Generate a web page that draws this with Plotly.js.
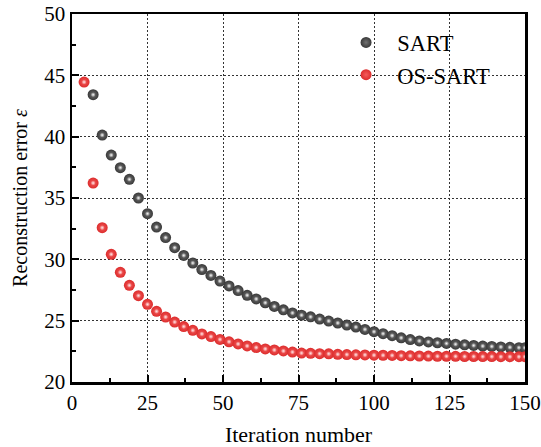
<!DOCTYPE html>
<html>
<head>
<meta charset="utf-8">
<script src="https://cdn.plot.ly/plotly-3.0.1.min.js"></script>
<style>
  html, body { margin: 0; padding: 0; background: #fff; }
  #chart { width: 541px; height: 447px; }
</style>
</head>
<body>
<div id="chart"></div>
<script>
// Reconstruction error per iteration for the two algorithms
const sartIter = [7, 10, 13, 16, 19, 22, 25, 28, 31, 34, 37, 40, 43, 46, 49, 52, 55, 58, 61, 64,
  67, 70, 73, 76, 79, 82, 85, 88, 91, 94, 97, 100, 103, 106, 109, 112, 115, 118, 121, 124,
  127, 130, 133, 136, 139, 142, 145, 148, 150];
const sartError = [43.42, 40.13, 38.5, 37.47, 36.52, 35.0, 33.72, 32.63, 31.77, 30.95,
  30.32, 29.70, 29.17, 28.69, 28.23, 27.83, 27.45, 27.07, 26.77, 26.46,
  26.16, 25.88, 25.63, 25.45, 25.31, 25.13, 24.97, 24.81, 24.64, 24.48,
  24.29, 24.10, 23.94, 23.78, 23.60, 23.46, 23.35, 23.27, 23.20, 23.14,
  23.08, 23.03, 22.98, 22.93, 22.90, 22.86, 22.83, 22.80, 22.79];

const osIter = [4, 7, 10, 13, 16, 19, 22, 25, 28, 31, 34, 37, 40, 43, 46, 49, 52, 55, 58, 61,
  64, 67, 70, 73, 76, 79, 82, 85, 88, 91, 94, 97, 100, 103, 106, 109, 112, 115, 118, 121,
  124, 127, 130, 133, 136, 139, 142, 145, 148, 150];
const osError = [44.45, 36.22, 32.58, 30.41, 28.94, 27.88, 27.04, 26.33, 25.76, 25.30,
  24.89, 24.52, 24.21, 23.92, 23.70, 23.47, 23.28, 23.10, 22.94, 22.81,
  22.70, 22.61, 22.53, 22.44, 22.36, 22.34, 22.31, 22.30, 22.26, 22.24,
  22.22, 22.21, 22.19, 22.18, 22.17, 22.15, 22.13, 22.12, 22.11, 22.10,
  22.10, 22.09, 22.08, 22.08, 22.07, 22.07, 22.06, 22.06, 22.06, 22.06];

const seriesNames = ['SART', 'OS-SART'];

const FONT = 'Liberation Serif, Times New Roman, serif';

// Shaded "ball" markers: a radial-gradient base plus a small glossy highlight
function balls(x, y, name, edge, core, shine) {
  return [
    {
      x: x, y: y, name: '\u2002' + name, type: 'scatter', mode: 'markers',
      legendgroup: name,
      marker: { size: 11, color: edge, line: { width: 0 },
        gradient: { type: 'radial', color: core } }
    },
    {
      x: x, y: y, name: name, type: 'scatter', mode: 'markers',
      legendgroup: name, showlegend: false, hoverinfo: 'skip',
      marker: { size: 5, color: 'rgba(255,255,255,0)', line: { width: 0 },
        gradient: { type: 'radial', color: shine } }
    }
  ];
}

const data = [].concat(
  balls(sartIter, sartError, seriesNames[0], '#383838', '#727272', 'rgba(255,255,255,0.95)'),
  balls(osIter, osError, seriesNames[1], '#dc2c2c', '#f45c5c', 'rgba(255,235,235,0.95)')
);

const axisCommon = {
  showline: true, linewidth: 2.5, linecolor: '#000', mirror: true,
  ticks: 'inside', ticklen: 7, tickwidth: 2, tickcolor: '#000',
  showgrid: true, gridcolor: '#333', gridwidth: 1, griddash: '2px,2px',
  zeroline: false,
  tickfont: { family: FONT, size: 21, color: '#000' }
};

const layout = {
  width: 541, height: 447,
  margin: { l: 72, r: 16, t: 14, b: 65 },
  paper_bgcolor: '#fff', plot_bgcolor: '#fff',
  font: { family: FONT, size: 21, color: '#000' },
  showlegend: true,
  legend: {
    x: 0.605, y: 0.98, xanchor: 'left', yanchor: 'top',
    bgcolor: 'rgba(255,255,255,0)', borderwidth: 0,
    font: { family: FONT, size: 22.5, color: '#000' },
    tracegroupgap: 0
  },
  xaxis: Object.assign({}, axisCommon, {
    range: [0, 150], tick0: 0, dtick: 25,
    minor: { ticks: 'inside', ticklen: 4, tickwidth: 2, tickcolor: '#000', tick0: 0, dtick: 12.5, showgrid: false },
    title: { text: 'Iteration number', font: { family: FONT, size: 22, color: '#000' }, standoff: 15 }
  }),
  yaxis: Object.assign({}, axisCommon, {
    range: [20, 50], tick0: 20, dtick: 5,
    minor: { ticks: 'inside', ticklen: 4, tickwidth: 2, tickcolor: '#000', tick0: 20, dtick: 2.5, showgrid: false },
    title: { text: 'Reconstruction error <i>ε</i>', font: { family: FONT, size: 20, color: '#000' }, standoff: 12 }
  })
};

Plotly.newPlot('chart', data, layout, { staticPlot: true, displayModeBar: false });
</script>
</body>
</html>
